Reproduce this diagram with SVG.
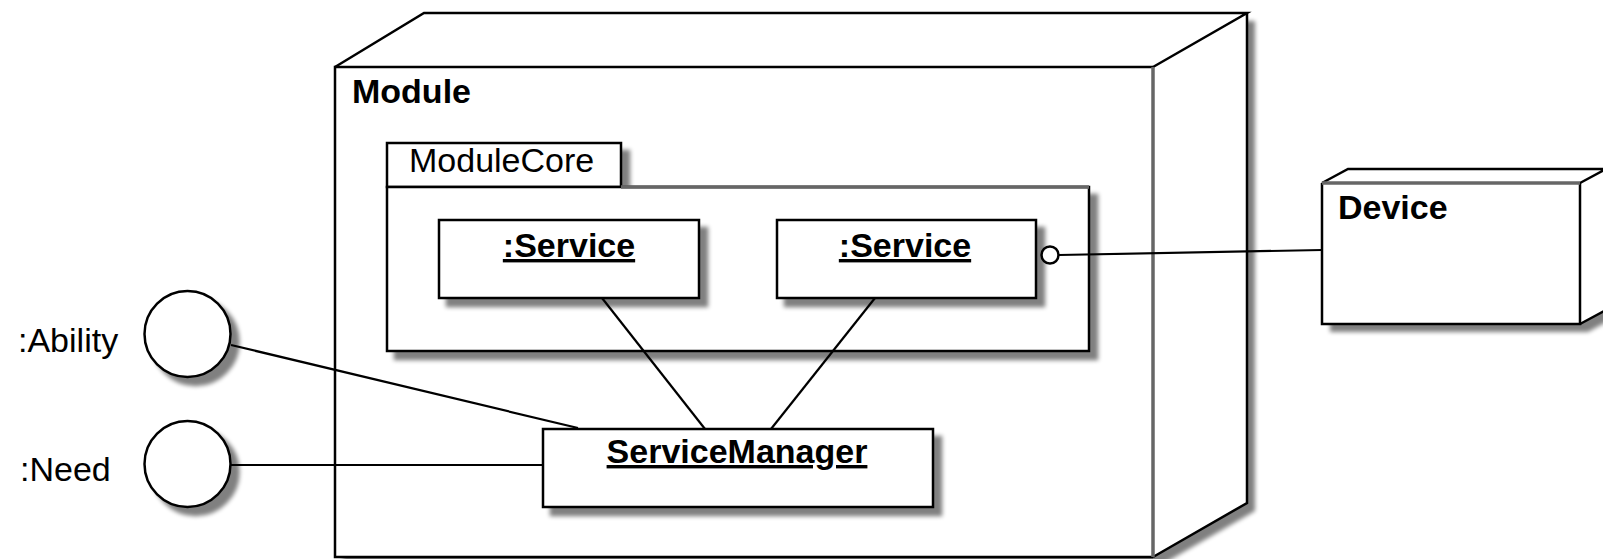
<svg xmlns="http://www.w3.org/2000/svg" width="1603" height="559" viewBox="0 0 1603 559">
  <style>
    .box { fill: #ffffff; stroke: #000000; stroke-width: 2.5; }
    .edge { fill: none; stroke: #000000; stroke-width: 2.5; stroke-linejoin: miter; }
    .gray { fill: none; stroke: #666666; stroke-width: 3.5; }
    .conn { fill: none; stroke: #000000; stroke-width: 2.2; }
    .t { font-family: "Liberation Sans", Arial, Helvetica, sans-serif; font-size: 34px; fill: #000000; }
    .b { font-weight: bold; }
    .u { text-decoration: underline; }
  </style>
  <defs>
    <filter id="sh" x="-10%" y="-10%" width="130%" height="130%">
      <feGaussianBlur in="SourceAlpha" stdDeviation="2"/>
      <feOffset dx="8" dy="8" result="o"/>
      <feComponentTransfer><feFuncA type="linear" slope="0.5"/></feComponentTransfer>
      <feMerge><feMergeNode/><feMergeNode in="SourceGraphic"/></feMerge>
    </filter>
  </defs>
  <rect width="1603" height="559" fill="#ffffff"/>

  <g id="module">
    <path d="M335,67 L424,13 L1247,13 L1247,503 L1153,557 L335,557 Z" fill="#ffffff" filter="url(#sh)"/>
    <path class="edge" d="M335,67 L424,13 L1247,13 L1153,67 M1247,13 L1247,503 L1153,557"/>
    <path class="edge" d="M1153,557 L335,557 L335,67 L1153,67"/>
    <line class="gray" x1="1153" y1="67" x2="1153" y2="557"/>
    <text class="t b" x="352" y="103">Module</text>
  </g>

  <g id="moduleCore">
    <g filter="url(#sh)">
      <rect class="box" x="387" y="143" width="234" height="44"/>
      <rect class="box" x="387" y="187" width="702" height="164"/>
    </g>
    <line class="gray" x1="621" y1="187" x2="1089" y2="187"/>
    <text class="t" x="409" y="172">ModuleCore</text>
  </g>

  <g id="service1">
    <rect class="box" x="439" y="220" width="260" height="78" filter="url(#sh)"/>
    <text class="t b u" x="569" y="257" text-anchor="middle">:Service</text>
  </g>

  <g id="service2">
    <rect class="box" x="777" y="220" width="259" height="78" filter="url(#sh)"/>
    <text class="t b u" x="905" y="257" text-anchor="middle">:Service</text>
  </g>

  <g id="serviceManager">
    <rect class="box" x="543" y="429" width="390" height="78" filter="url(#sh)"/>
    <text class="t b u" x="737" y="463" text-anchor="middle">ServiceManager</text>
  </g>

  <g id="ability">
    <circle class="box" cx="187.5" cy="334" r="43" filter="url(#sh)"/>
    <text class="t" x="18" y="352">:Ability</text>
  </g>

  <g id="need">
    <circle class="box" cx="187.5" cy="464" r="43" filter="url(#sh)"/>
    <text class="t" x="20" y="481">:Need</text>
  </g>

  <g id="device">
    <path d="M1322,183 L1348,169 L1606,169 L1606,310 L1580,324 L1322,324 Z" fill="#ffffff" filter="url(#sh)"/>
    <path class="edge" d="M1322,183 L1348,169 L1606,169 M1580,183 L1606,169 M1580,324 L1606,310"/>
    <path class="edge" d="M1322,183 L1322,324 L1580,324 L1580,183"/>
    <line class="gray" x1="1322" y1="183" x2="1580" y2="183"/>
    <text class="t b" x="1338" y="219">Device</text>
  </g>

  <g id="connectors">
    <line class="conn" x1="231" y1="345" x2="578" y2="428"/>
    <line class="conn" x1="231" y1="465" x2="543" y2="465"/>
    <line class="conn" x1="602" y1="298" x2="705" y2="429"/>
    <line class="conn" x1="875" y1="298" x2="771" y2="429"/>
    <line class="conn" x1="1059" y1="255" x2="1322" y2="250"/>
    <circle cx="1050" cy="255" r="8.5" fill="#ffffff" stroke="#000000" stroke-width="2.5"/>
  </g>
</svg>
